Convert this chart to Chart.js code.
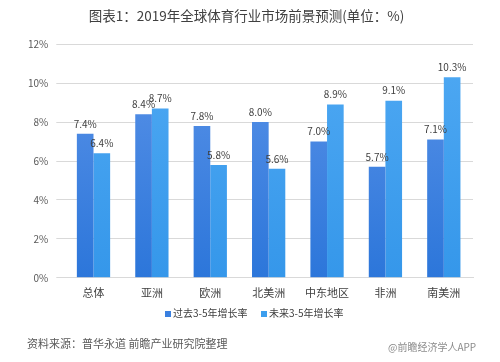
<!DOCTYPE html>
<html>
<head>
<meta charset="utf-8">
<script src="https://cdn.jsdelivr.net/npm/chart.js@4"></script>
<style>
  html, body { margin: 0; padding: 0; background: #fff; }
  #wrap { position: relative; width: 500px; height: 362px; }
  .note { position: absolute; font-family: "Noto Sans CJK SC", sans-serif; color: #595959; white-space: nowrap; }
  .key { position: absolute; top: 305px; font-family: "Noto Sans CJK SC", sans-serif; font-size: 10px; color: #404040; white-space: nowrap; line-height: 16px; }
  .key i { display: inline-block; width: 6px; height: 6px; margin-right: 2px; vertical-align: 0px; }
</style>
</head>
<body>
<div id="wrap">
  <canvas id="growthChart" width="500" height="362"></canvas>
  <div id="legend"></div>
  <div class="note" style="left:27px; top:335px; font-size:11px;">资料来源：普华永道 前瞻产业研究院整理</div>
  <div class="note" style="left:388px; top:339px; font-size:10px; color:#8c8c8c;">@前瞻经济学人APP</div>
</div>
<script>
// Data
const regions = ["总体", "亚洲", "欧洲", "北美洲", "中东地区", "非洲", "南美洲"];
const pastGrowth = [7.4, 8.4, 7.8, 8.0, 7.0, 5.7, 7.1];
const futureGrowth = [6.4, 8.7, 5.8, 5.6, 8.9, 9.1, 10.3];
const yTicks = [0, 2, 4, 6, 8, 10, 12];

const cjk = '"Noto Sans CJK SC", "Noto Sans", sans-serif';

// vertical gradient for the bars
function barFill(top, bottom) {
  return function (ctx) {
    const area = ctx.chart.chartArea;
    if (!area) return bottom;
    const g = ctx.chart.ctx.createLinearGradient(0, area.top, 0, area.bottom);
    g.addColorStop(0, top);
    g.addColorStop(1, bottom);
    return g;
  };
}

// value labels above each bar
const valueLabels = {
  id: "valueLabels",
  afterDatasetsDraw(chart) {
    const c = chart.ctx;
    c.save();
    c.font = "10px " + cjk;
    c.fillStyle = "#404040";
    c.textAlign = "center";
    c.textBaseline = "bottom";
    chart.data.datasets.forEach((ds, i) => {
      chart.getDatasetMeta(i).data.forEach((bar, j) => {
        c.fillText(ds.data[j].toFixed(1) + "%", bar.x, bar.y - 5);
      });
    });
    c.restore();
  },
};

const ctx = document.getElementById("growthChart").getContext("2d");
const chart = new Chart(ctx, {
  type: "bar",
  data: {
    labels: regions,
    datasets: [
      {
        label: "过去3-5年增长率",
        data: pastGrowth,
        backgroundColor: barFill("#5b93e8", "#2c76da"),
        borderWidth: 0,
      },
      {
        label: "未来3-5年增长率",
        data: futureGrowth,
        backgroundColor: barFill("#4fa9f3", "#3597ea"),
        borderWidth: 0,
      },
    ],
  },
  options: {
    responsive: false,
    animation: false,
    layout: { padding: { left: 20, right: 27, bottom: 63, top: 0 } },
    datasets: {
      bar: { categoryPercentage: 0.57, barPercentage: 1 },
    },
    plugins: {
      title: {
        display: true,
        text: "图表1：2019年全球体育行业市场前景预测(单位：%)",
        color: "#404040",
        font: { family: cjk, size: 13.5, weight: "normal" },
        padding: { top: 8, bottom: 20 },
      },
      legend: { display: false },
      tooltip: { enabled: false },
    },
    scales: {
      x: {
        grid: { display: false },
        border: { color: "#d9d9d9" },
        ticks: { color: "#404040", font: { family: cjk, size: 11 }, padding: 0 },
      },
      y: {
        min: 0,
        max: 12,
        afterBuildTicks(axis) {
          axis.ticks = yTicks.map((v) => ({ value: v }));
        },
        grid: { color: "#d9d9d9" },
        border: { display: false },
        ticks: {
          color: "#595959",
          font: { family: cjk, size: 10 },
          padding: 8,
          callback: (v) => v + "%",
        },
      },
    },
  },
  plugins: [valueLabels],
});

// legend items below the axis
const keyColors = ["#3a80e0", "#3c9eee"];
const keyLeft = [165, 261];
chart.data.datasets.forEach((ds, i) => {
  const el = document.createElement("div");
  el.className = "key";
  el.style.left = keyLeft[i] + "px";
  el.innerHTML = '<i style="background:' + keyColors[i] + '"></i>' + ds.label;
  document.getElementById("legend").appendChild(el);
});
</script>
</body>
</html>
